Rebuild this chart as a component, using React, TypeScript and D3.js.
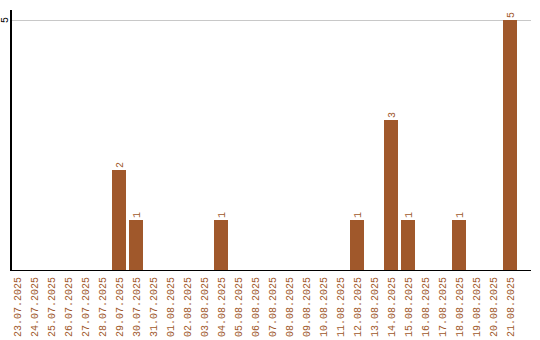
import React from "react";
import * as d3 from "d3";

const dates = [
  "23.07.2025", "24.07.2025", "25.07.2025", "26.07.2025", "27.07.2025",
  "28.07.2025", "29.07.2025", "30.07.2025", "31.07.2025", "01.08.2025",
  "02.08.2025", "03.08.2025", "04.08.2025", "05.08.2025", "06.08.2025",
  "07.08.2025", "08.08.2025", "09.08.2025", "10.08.2025", "11.08.2025",
  "12.08.2025", "13.08.2025", "14.08.2025", "15.08.2025", "16.08.2025",
  "17.08.2025", "18.08.2025", "19.08.2025", "20.08.2025", "21.08.2025",
];
const counts = [
  0, 0, 0, 0, 0, 0, 2, 1, 0, 0,
  0, 0, 1, 0, 0, 0, 0, 0, 0, 0,
  1, 0, 3, 1, 0, 0, 1, 0, 0, 5,
];
const yTicks = [5];

const W = 540;
const H = 340;
const BAR = "#a0582b";
const FONT = "'Liberation Mono', monospace";

export default function App() {
  const x = d3
    .scaleBand<string>()
    .domain(dates)
    .range([8.5, 518.5])
    .paddingInner(3 / 17)
    .paddingOuter(1.5 / 17);
  const y = d3.scaleLinear().domain([0, 5]).range([270, 20]);

  return (
    <svg
      width={W}
      height={H}
      style={{ position: "absolute", left: 0, top: 0 }}
      shapeRendering="crispEdges"
    >
      <rect width={W} height={H} fill="#fff" />
      {yTicks.map((t) => (
        <g key={t}>
          <line x1={11} x2={531} y1={y(t)} y2={y(t)} stroke="#c8c8c8" />
          <text
            transform={`translate(7.5,${y(t)}) rotate(-90)`}
            textAnchor="middle"
            fontFamily={FONT}
            fontSize={10}
            fill="#000"
          >
            {t}
          </text>
        </g>
      ))}
      {dates.map((d, i) =>
        counts[i] > 0 ? (
          <g key={d}>
            <rect
              x={x(d)}
              y={y(counts[i])}
              width={x.bandwidth()}
              height={y(0) - y(counts[i])}
              fill={BAR}
            />
            <text
              transform={`translate(${(x(d) ?? 0) + x.bandwidth() / 2 + 3.5},${y(counts[i]) - 2}) rotate(-90)`}
              textAnchor="start"
              fontFamily={FONT}
              fontSize={10}
              fill={BAR}
            >
              {counts[i]}
            </text>
          </g>
        ) : null
      )}
      <line x1={11} x2={11} y1={10} y2={270.5} stroke="#000" strokeWidth={1.5} />
      <line x1={10} x2={531} y1={270.5} y2={270.5} stroke="#000" strokeWidth={1.5} />
      {dates.map((d) => (
        <text
          key={"l" + d}
          transform={`translate(${(x(d) ?? 0) + x.bandwidth() / 2 + 3.5},277) rotate(-90)`}
          textAnchor="end"
          fontFamily={FONT}
          fontSize={10}
          fill={BAR}
        >
          {d}
        </text>
      ))}
    </svg>
  );
}
